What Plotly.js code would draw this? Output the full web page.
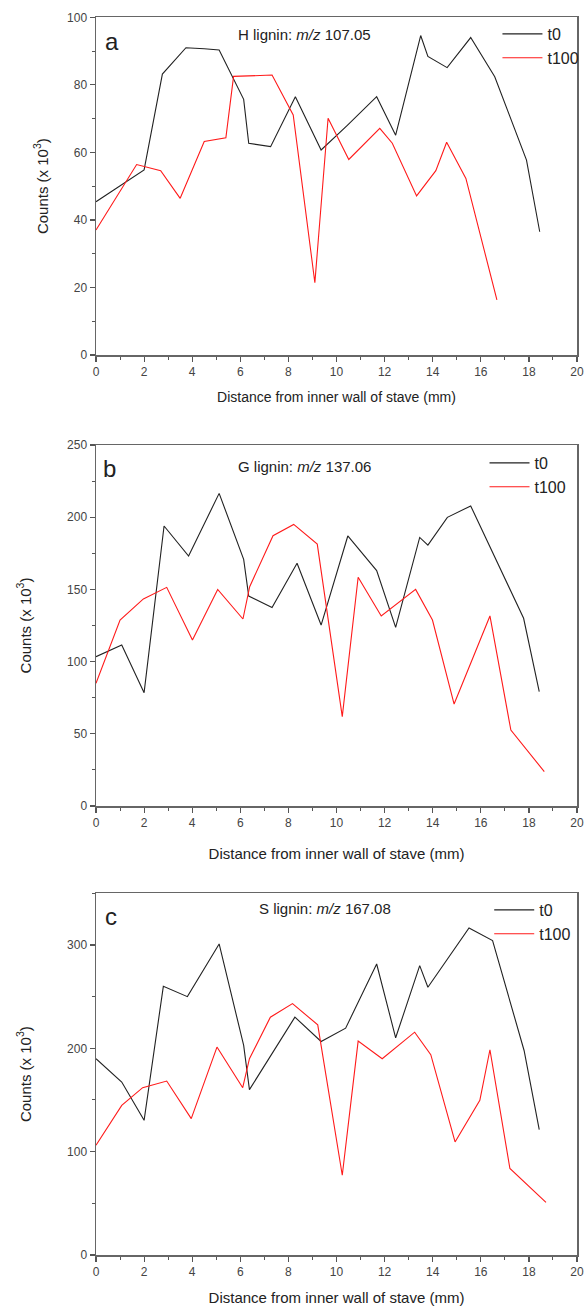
<!DOCTYPE html>
<html>
<head>
<meta charset="utf-8">
<script src="https://cdn.plot.ly/plotly-3.0.1.min.js"></script>
<style>html,body{margin:0;padding:0;background:#fff;}#chart{width:588px;height:1307px;}</style>
</head>
<body>
<div id="chart"></div>
<script>
// Panel a: H lignin m/z 107.05
const hT0X = [0, 2.0, 2.76, 3.74, 4.5, 5.12, 6.14, 6.35, 7.26, 8.29, 9.36, 10.45, 11.67, 12.46, 13.5, 13.8, 14.6, 15.58, 16.58, 17.9, 18.45];
const hT0Y = [45.4, 54.8, 83.2, 91.0, 90.7, 90.3, 75.7, 62.7, 61.7, 76.5, 60.7, 68, 76.5, 65.1, 94.6, 88.4, 85.1, 94.0, 82.4, 57.7, 36.5];
const hT100X = [0, 1.69, 2.69, 3.5, 4.5, 5.4, 5.72, 7.32, 8.2, 9.1, 9.65, 10.51, 11.8, 12.32, 13.33, 14.13, 14.58, 15.38, 16.67];
const hT100Y = [37.0, 56.4, 54.6, 46.4, 63.2, 64.3, 82.5, 82.9, 71.1, 21.4, 70.1, 57.9, 67.1, 62.7, 47.1, 54.6, 63.0, 52.3, 16.3];

// Panel b: G lignin m/z 137.06
const gT0X = [0, 1.07, 2.0, 2.83, 3.85, 5.12, 6.14, 6.35, 7.32, 8.36, 9.36, 10.47, 11.67, 12.46, 13.46, 13.8, 14.61, 15.58, 17.78, 18.43];
const gT0Y = [103.4, 111.5, 78.5, 193.9, 173.1, 216.5, 170.8, 145.4, 137.4, 168.1, 125.3, 187, 163, 123.7, 186, 180.7, 199.9, 207.8, 130, 79.2];
const gT100X = [0, 1.0, 1.97, 2.94, 4.01, 5.06, 6.11, 6.39, 7.36, 8.22, 9.2, 10.24, 10.9, 11.86, 13.29, 13.99, 14.89, 16.38, 17.25, 18.64];
const gT100Y = [85, 128.8, 143.4, 151.4, 115, 150, 129.5, 151.9, 187.2, 195, 181.4, 61.9, 158.4, 131.6, 150, 128.8, 70.6, 131.6, 52.6, 23.8];

// Panel c: S lignin m/z 167.08
const sT0X = [0, 1.07, 2.0, 2.8, 3.8, 5.12, 6.14, 6.38, 8.27, 9.36, 10.38, 11.67, 12.46, 13.46, 13.8, 15.51, 16.49, 17.8, 18.43];
const sT0Y = [189.9, 167.4, 130.3, 260, 250, 301, 202.8, 160, 230.1, 206.6, 219.5, 281.6, 210.2, 280, 259.1, 316.4, 304.2, 197.9, 121.3];
const sT100X = [0, 1.07, 1.94, 2.94, 3.96, 5.03, 6.1, 6.38, 7.25, 8.17, 9.22, 10.24, 10.9, 11.9, 13.25, 13.92, 14.93, 15.96, 16.38, 17.21, 18.71];
const sT100Y = [106.2, 144.8, 161.9, 168.3, 132, 201.2, 161.9, 189.9, 230.1, 243.3, 222.7, 77.2, 207, 189.9, 215.6, 193.8, 109.4, 149.7, 198.6, 83.7, 50.9];

const seriesNames = ["t0", "t100"];
const panelLetters = ["a", "b", "c"];
const panelLabels = ["H lignin: <i>m/z</i> 107.05", "G lignin: <i>m/z</i> 137.06", "S lignin: <i>m/z</i> 167.08"];
const xTitle = "Distance from inner wall of stave (mm)";
const yTitle = "Counts (x 10<sup>3</sup>)";

const FONT = "Arial, 'Liberation Sans', sans-serif";
const BLACK = "#222222";
const RED = "#ff1a1a";

function tr(x, y, name, color, xa, ya, leg) {
  return {x: x, y: y, name: name, type: "scatter", mode: "lines",
    line: {color: color, width: 1.1}, xaxis: xa, yaxis: ya, legend: leg};
}

const data = [
  tr(hT0X, hT0Y, seriesNames[0], BLACK, "x", "y", "legend"),
  tr(hT100X, hT100Y, seriesNames[1], RED, "x", "y", "legend"),
  tr(gT0X, gT0Y, seriesNames[0], BLACK, "x2", "y2", "legend2"),
  tr(gT100X, gT100Y, seriesNames[1], RED, "x2", "y2", "legend2"),
  tr(sT0X, sT0Y, seriesNames[0], BLACK, "x3", "y3", "legend3"),
  tr(sT100X, sT100Y, seriesNames[1], RED, "x3", "y3", "legend3")
];

const xDom = [96/588, 577/588];
function xaxis(anchor, titleSize, standoff) {
  return {domain: xDom, anchor: anchor, range: [0, 20], dtick: 2, tick0: 0,
    ticks: "outside", ticklen: 5, tickwidth: 1.2, tickcolor: "#555",
    minor: {dtick: 1, ticks: "outside", ticklen: 3, tickcolor: "#555", tickwidth: 1},
    showline: true, linecolor: "#666", linewidth: 1.5, mirror: true,
    showgrid: false, zeroline: false,
    tickfont: {family: FONT, size: 12, color: "#444"},
    title: {text: xTitle, font: {family: FONT, size: titleSize, color: "#222"}, standoff: standoff},
    fixedrange: true};
}
function yaxis(anchor, dom, range, dtick, standoff) {
  return {domain: dom, anchor: anchor, range: range, dtick: dtick, tick0: 0,
    ticks: "outside", ticklen: 5, tickwidth: 1.2, tickcolor: "#555",
    minor: {dtick: dtick/2, ticks: "outside", ticklen: 3, tickcolor: "#555", tickwidth: 1},
    showline: true, linecolor: "#666", linewidth: 1.5, mirror: true,
    showgrid: false, zeroline: false,
    tickfont: {family: FONT, size: 12, color: "#444"},
    title: {text: yTitle, font: {family: FONT, size: 15, color: "#222"}, standoff: standoff},
    fixedrange: true};
}

function legend(x, y) {
  return {x: x, y: y, xanchor: "left", yanchor: "top", bgcolor: "rgba(0,0,0,0)",
    font: {family: FONT, size: 16, color: "#222"}, borderwidth: 0, tracegroupgap: 0,
    itemwidth: 40};
}

function ann(text, x, y, size) {
  return {text: text, x: x, y: y, xref: "paper", yref: "paper", showarrow: false,
    xanchor: "left", yanchor: "middle", font: {family: FONT, size: size, color: "#222"}};
}

const layout = {
  width: 588, height: 1307,
  margin: {l: 0, r: 0, t: 0, b: 0},
  paper_bgcolor: "#fff", plot_bgcolor: "#fff",
  showlegend: true,
  xaxis: xaxis("y", 14, 14),
  yaxis: yaxis("x", [1 - 355/1307, 1 - 17.3/1307], [0, 100], 20, 15),
  xaxis2: xaxis("y2", 15, 19),
  yaxis2: yaxis("x2", [1 - 806/1307, 1 - 445/1307], [0, 250], 50, 32),
  xaxis3: xaxis("y3", 15, 14),
  yaxis3: yaxis("x3", [1 - 1255/1307, 1 - 893.3/1307], [0, 350], 100, 32),
  legend: legend(0.846, 1 - 17/1307),
  legend2: legend(0.824, 1 - 446/1307),
  legend3: legend(0.832, 1 - 893/1307),
  annotations: [
    ann(panelLetters[0], 103/588, 1 - 41/1307, 24),
    ann(panelLabels[0], 236/588, 1 - 35/1307, 15),
    ann(panelLetters[1], 101/588, 1 - 468/1307, 24),
    ann(panelLabels[1], 236/588, 1 - 466/1307, 15),
    ann(panelLetters[2], 103/588, 1 - 917/1307, 24),
    ann(panelLabels[2], 257/588, 1 - 909/1307, 15)
  ]
};

Plotly.newPlot("chart", data, layout, {staticPlot: true, displayModeBar: false});
</script>
</body>
</html>
